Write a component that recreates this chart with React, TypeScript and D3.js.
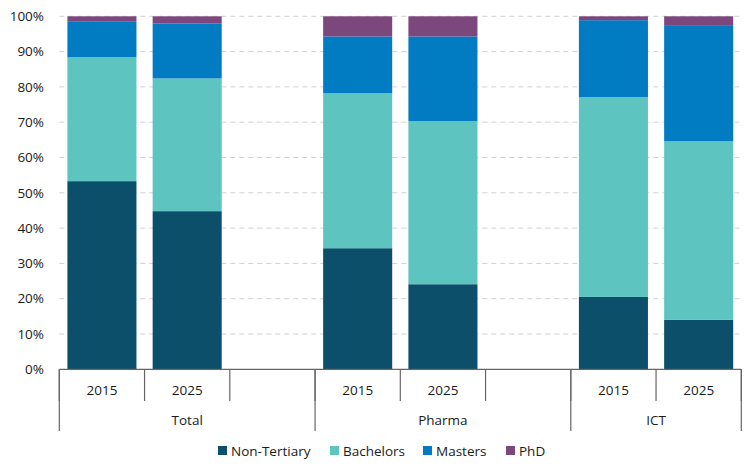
import React from "react";
import * as d3 from "d3";

// Slots along the x axis: each sector has 2015 and 2025 columns plus an empty spacer
const groups = ["Total", "Pharma", "ICT"];
const slots = ["Total|2015", "Total|2025", "Total|", "Pharma|2015", "Pharma|2025", "Pharma|", "ICT|2015", "ICT|2025"];

// Shares (%) by education level, one entry per filled column in slot order
const barKeys = ["Total|2015", "Total|2025", "Pharma|2015", "Pharma|2025", "ICT|2015", "ICT|2025"];
const nonTertiary = [53.3, 44.8, 34.3, 24.1, 20.5, 14.0];
const bachelors = [35.1, 37.6, 43.9, 46.2, 56.6, 50.6];
const masters = [10.2, 15.6, 16.1, 24.0, 21.8, 32.9];
const phd = [1.4, 2.0, 5.7, 5.7, 1.1, 2.5];

const seriesNames = ["Non-Tertiary", "Bachelors", "Masters", "PhD"];
const seriesColors = ["#0b4f6a", "#5ec4c0", "#017bc2", "#7c477d"];
const yTicks = [0, 10, 20, 30, 40, 50, 60, 70, 80, 90, 100];

const W = 756;
const H = 473;
const left = 59.3;
const right = 741.3;
const top = 16.3;
const bottom = 369.3;
const font = "'Open Sans', 'Noto Sans', sans-serif";
const fontSize = 13.5;
const textColor = "#1a1a1a";
const axisColor = "#666666";

export default function App() {
  const x = d3.scaleBand<string>().domain(slots).range([left, right]).paddingInner(0.19).paddingOuter(0.095);
  const y = d3.scaleLinear().domain([0, 100]).range([bottom, top]);
  const step = x.step();
  const slotLeft = (k: string) => left + slots.indexOf(k) * step;

  const rows = barKeys.map((k, i) => ({
    key: k,
    "Non-Tertiary": nonTertiary[i],
    Bachelors: bachelors[i],
    Masters: masters[i],
    PhD: phd[i],
  }));
  const stacked = d3.stack<any>().keys(seriesNames)(rows);

  // Boundaries between year slots (short ticks) and between sectors (long ticks)
  const shortTicks = d3.range(0, slots.length + 1).map((i) => left + i * step);
  const longTicks = [0, 3, 6, 8].map((i) => left + i * step);

  const legendX = [218, 330, 423, 506];

  return (
    <svg width={W} height={H} style={{ position: "absolute", left: 0, top: 0, background: "#fff" }}>
      {/* gridlines */}
      {yTicks.slice(1).map((t) => (
        <line key={t} x1={left} x2={right} y1={y(t)} y2={y(t)} stroke="#d0d0d0" strokeWidth={1} strokeDasharray="5,4" />
      ))}
      {/* y labels */}
      {yTicks.map((t) => (
        <text key={t} x={44} y={y(t)} dy="0.35em" textAnchor="end" fontFamily={font} fontSize={fontSize} fill={textColor}>
          {t}%
        </text>
      ))}
      {/* stacked bars */}
      {stacked.map((s, si) => (
        <g key={s.key} fill={seriesColors[si]}>
          {s.map((d) => (
            <rect key={d.data.key} x={x(d.data.key)} width={x.bandwidth()} y={y(d[1])} height={y(d[0]) - y(d[1])} />
          ))}
        </g>
      ))}
      {/* category axis */}
      <line x1={left} x2={right} y1={bottom} y2={bottom} stroke={axisColor} strokeWidth={1.2} />
      {shortTicks.map((tx, i) => (
        <line key={"s" + i} x1={tx} x2={tx} y1={bottom} y2={401} stroke={axisColor} strokeWidth={1.2} />
      ))}
      {longTicks.map((tx, i) => (
        <line key={"l" + i} x1={tx} x2={tx} y1={bottom} y2={431} stroke={axisColor} strokeWidth={1.2} />
      ))}
      {barKeys.map((k) => (
        <text key={k} x={slotLeft(k) + step / 2} y={390} dy="0.35em" textAnchor="middle" fontFamily={font} fontSize={fontSize} fill={textColor}>
          {k.split("|")[1]}
        </text>
      ))}
      {groups.map((g, gi) => {
        const from = left + gi * 3 * step;
        const to = gi === groups.length - 1 ? right : left + (gi * 3 + 3) * step;
        return (
          <text key={g} x={(from + to) / 2} y={420} dy="0.35em" textAnchor="middle" fontFamily={font} fontSize={fontSize} fill={textColor}>
            {g}
          </text>
        );
      })}
      {/* legend */}
      {seriesNames.map((n, i) => (
        <g key={n}>
          <rect x={legendX[i]} y={446} width={9} height={9} fill={seriesColors[i]} />
          <text x={legendX[i] + 13} y={451} dy="0.35em" fontFamily={font} fontSize={fontSize} fill={textColor}>
            {n}
          </text>
        </g>
      ))}
    </svg>
  );
}
